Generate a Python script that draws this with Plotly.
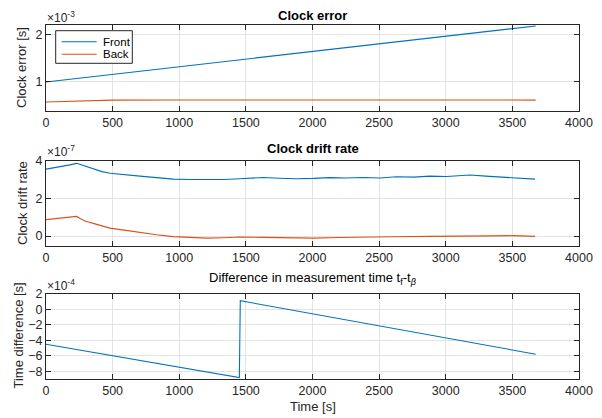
import plotly.graph_objects as go

# ---------------- data ----------------
err_t_front = [0, 3675]
err_front = [1.00, 2.19]            # x 1e-3 s
err_t_back = [0, 100, 200, 300, 400, 500, 1000, 2000, 3000, 3675]
err_back = [0.575, 0.585, 0.597, 0.606, 0.612, 0.615, 0.617, 0.617, 0.616, 0.615]

drift_t_front = [0, 60, 120, 180, 230, 290, 355, 420, 480, 580, 705, 830, 955, 1080, 1206,
                 1330, 1456, 1550, 1631, 1750, 1881, 2006, 2131, 2250, 2381, 2506, 2631,
                 2760, 2882, 3007, 3100, 3182, 3300, 3400, 3507, 3600, 3670]
drift_front = [3.55, 3.62, 3.70, 3.78, 3.86, 3.72, 3.54, 3.42, 3.33, 3.25, 3.18, 3.10, 3.02,
               3.00, 2.99, 3.00, 3.04, 3.06, 3.11, 3.07, 3.04, 3.06, 3.10, 3.08, 3.11, 3.08,
               3.15, 3.13, 3.18, 3.16, 3.20, 3.24, 3.18, 3.14, 3.11, 3.06, 3.02]
drift_t_back = [0, 60, 120, 180, 230, 260, 293, 380, 480, 600, 705, 830, 955, 1080, 1206,
                1330, 1456, 1631, 1800, 2006, 2200, 2381, 2600, 2882, 3000, 3182, 3350,
                3507, 3670]
drift_back = [0.87, 0.92, 0.97, 1.01, 1.04, 0.92, 0.80, 0.62, 0.42, 0.30, 0.18, 0.07, -0.03,
              -0.08, -0.11, -0.09, -0.05, -0.07, -0.08, -0.11, -0.08, -0.05, -0.04, -0.02,
              -0.02, 0.00, 0.01, 0.02, -0.02]

dt_t = [0, 1451, 1458, 3675]
dt_val = [-4.50, -8.82, 1.13, -5.79]  # x 1e-4 s

x_ticks = [0, 500, 1000, 1500, 2000, 2500, 3000, 3500, 4000]

BLUE = "#0072BD"
ORANGE = "#D95319"
AX = "#262626"
FONT = "Liberation Sans, Arial, Helvetica, sans-serif"

W, H = 602, 418


def px_x(p):
    return p / W


def px_y(p):
    return 1 - p / H


LW = 1.1
fig = go.Figure()
fig.add_trace(go.Scatter(x=err_t_front, y=err_front, mode="lines", name="Front",
                         line=dict(color=BLUE, width=LW), xaxis="x", yaxis="y"))
fig.add_trace(go.Scatter(x=err_t_back, y=err_back, mode="lines", name="Back",
                         line=dict(color=ORANGE, width=LW), xaxis="x", yaxis="y"))
fig.add_trace(go.Scatter(x=drift_t_front, y=drift_front, mode="lines", name="Front",
                         line=dict(color=BLUE, width=LW), xaxis="x2", yaxis="y2"))
fig.add_trace(go.Scatter(x=drift_t_back, y=drift_back, mode="lines", name="Back",
                         line=dict(color=ORANGE, width=LW), xaxis="x2", yaxis="y2"))
fig.add_trace(go.Scatter(x=dt_t, y=dt_val, mode="lines", name="dt",
                         line=dict(color=BLUE, width=LW), xaxis="x3", yaxis="y3"))

xdom = [px_x(46), px_x(579)]
plots = [  # (top px, bottom px)
    (25, 111),
    (160.7, 246),
    (294, 379),
]

common = dict(showline=True, linecolor=AX, linewidth=1, mirror="ticks", ticks="inside",
              ticklen=5, tickcolor=AX, tickwidth=1, showgrid=True, gridcolor="#e3e3e3",
              gridwidth=1, zeroline=False, automargin=False,
              tickfont=dict(family=FONT, size=12.5, color=AX))

yranges = [[0.383, 2.21], [-0.53, 4.0], [-9.0, 2.0]]
yticks = [[1, 2], [0, 2, 4], [-8, -6, -4, -2, 0, 2]]

layout = dict(width=W, height=H, margin=dict(l=0, r=0, t=0, b=0, autoexpand=False),
              showlegend=False,
              plot_bgcolor="white", paper_bgcolor="white", font=dict(family=FONT, color=AX))
for i, (top, bot) in enumerate(plots):
    sfx = "" if i == 0 else str(i + 1)
    layout["xaxis" + sfx] = dict(domain=xdom, range=[0, 4000], tickvals=x_ticks,
                                 anchor="y" + sfx, **common)
    layout["yaxis" + sfx] = dict(domain=[px_y(bot), px_y(top)], range=yranges[i],
                                 tickvals=yticks[i], anchor="x" + sfx, **common)
fig.update_layout(**layout)

ann = []


def add_text(text, xp, yp, size=13, color=AX, xanchor="center", angle=0, height=None):
    a = dict(text=text, x=px_x(xp), y=px_y(yp), xref="paper", yref="paper",
             xanchor=xanchor, yanchor="middle", showarrow=False, textangle=angle,
             font=dict(size=size, color=color, family=FONT))
    if height:
        a["height"] = height
    ann.append(a)


# titles
add_text("<b>Clock error</b>", 312.5, 15, color="#000")
add_text("<b>Clock drift rate</b>", 312.5, 149, color="#000")
add_text("Difference in measurement time t<sub>f</sub>-t<sub><i>β</i></sub>", 312.5, 278,
         color="#000")
# x label
add_text("Time [s]", 312.5, 406)
# y labels
add_text("Clock error [s]", 22, 68, angle=-90)
add_text("Clock drift rate", 22, 203, angle=-90)
add_text("Time difference [s]", 17.5, 336, angle=-90)
# exponents
for e, yp in [("-3", 17), ("-7", 151), ("-4", 285)]:
    add_text("×10<sup>" + e + "</sup>", 45, yp, size=12, xanchor="left")

# legend (drawn box)
shapes = [dict(type="rect", xref="paper", yref="paper", x0=px_x(55.7), x1=px_x(132.3),
               y0=px_y(63.3), y1=px_y(30.7), line=dict(color=AX, width=1), fillcolor="white",
               layer="above")]
for name, col, yp in [("Front", BLUE, 41.7), ("Back", ORANGE, 54.3)]:
    shapes.append(dict(type="line", xref="paper", yref="paper", x0=px_x(61.7), x1=px_x(96.7),
                       y0=px_y(yp), y1=px_y(yp), line=dict(color=col, width=LW), layer="above"))
    add_text(name, 100.5, yp, size=11.5, color="#000", xanchor="left", height=12)

fig.update_layout(annotations=ann, shapes=shapes)
fig.write_html("out.html", config={"displayModeBar": False},
               post_script="document.body.style.margin='0px';")
